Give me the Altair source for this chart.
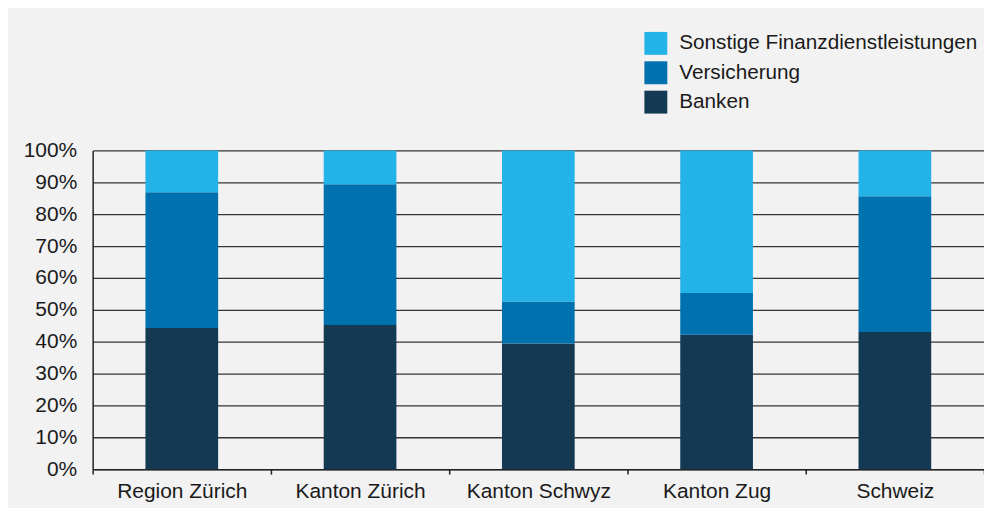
import altair as alt
import pandas as pd

categories = ["Region Zürich", "Kanton Zürich", "Kanton Schwyz", "Kanton Zug", "Schweiz"]
series_names = ["Sonstige Finanzdienstleistungen", "Versicherung", "Banken"]
banken = [44.3, 45.2, 39.4, 42.2, 43.0]
versicherung = [42.6, 44.2, 13.2, 13.1, 42.6]
sonstige = [13.1, 10.6, 47.4, 44.7, 14.4]
colors = ["#24B3E8", "#0071AF", "#143A53"]
y_ticks = [0, 10, 20, 30, 40, 50, 60, 70, 80, 90, 100]

rows = []
for i, c in enumerate(categories):
    rows.append({"Region": c, "Sektor": "Banken", "Anteil": banken[i], "ord": 0})
    rows.append({"Region": c, "Sektor": "Versicherung", "Anteil": versicherung[i], "ord": 1})
    rows.append({"Region": c, "Sektor": "Sonstige Finanzdienstleistungen", "Anteil": sonstige[i], "ord": 2})
df = pd.DataFrame(rows)

FONT = "Liberation Sans"

chart = alt.Chart(df).mark_bar(size=73).encode(
    x=alt.X("Region:N", sort=categories, title=None,
            scale=alt.Scale(paddingInner=0, paddingOuter=0),
            axis=alt.Axis(labelAngle=0, tickBand="extent", ticks=True, tickSize=5,
                          tickColor="#222222", tickWidth=1.5, domainColor="#222222",
                          domainWidth=1.5, labelPadding=6, labelFontSize=21,
                          labelColor="#1a1a1a", labelFont=FONT, grid=False)),
    y=alt.Y("Anteil:Q", stack="zero", title=None,
            scale=alt.Scale(domain=[0, 100], nice=False),
            axis=alt.Axis(values=y_ticks, labelExpr="datum.value + '%'", ticks=False,
                          tickSize=0, labelPadding=16, labelFontSize=21,
                          labelColor="#1a1a1a", labelFont=FONT, domainColor="#222222",
                          domainWidth=1.5, grid=True, gridColor="#353535", gridWidth=1.3)),
    color=alt.Color("Sektor:N", scale=alt.Scale(domain=series_names, range=colors),
                    legend=alt.Legend(title=None, orient="none", legendX=554, legendY=-119,
                                      symbolType="square", symbolSize=529, symbolStrokeWidth=0,
                                      symbolOpacity=1, labelFontSize=20.8, labelFont=FONT,
                                      labelColor="#1a1a1a", labelOffset=12, rowPadding=6.5,
                                      padding=0, labelLimit=400)),
    order=alt.Order("ord:Q", sort="ascending"),
).properties(
    width=895, height=320,
    background="#f2f2f2",
    padding={"left": 85, "top": 142, "right": 0, "bottom": 38},
    autosize=alt.AutoSizeParams(type="none"),
).configure_view(stroke=None)

chart.save("out.html", embed_options={"renderer": "svg", "actions": False})
